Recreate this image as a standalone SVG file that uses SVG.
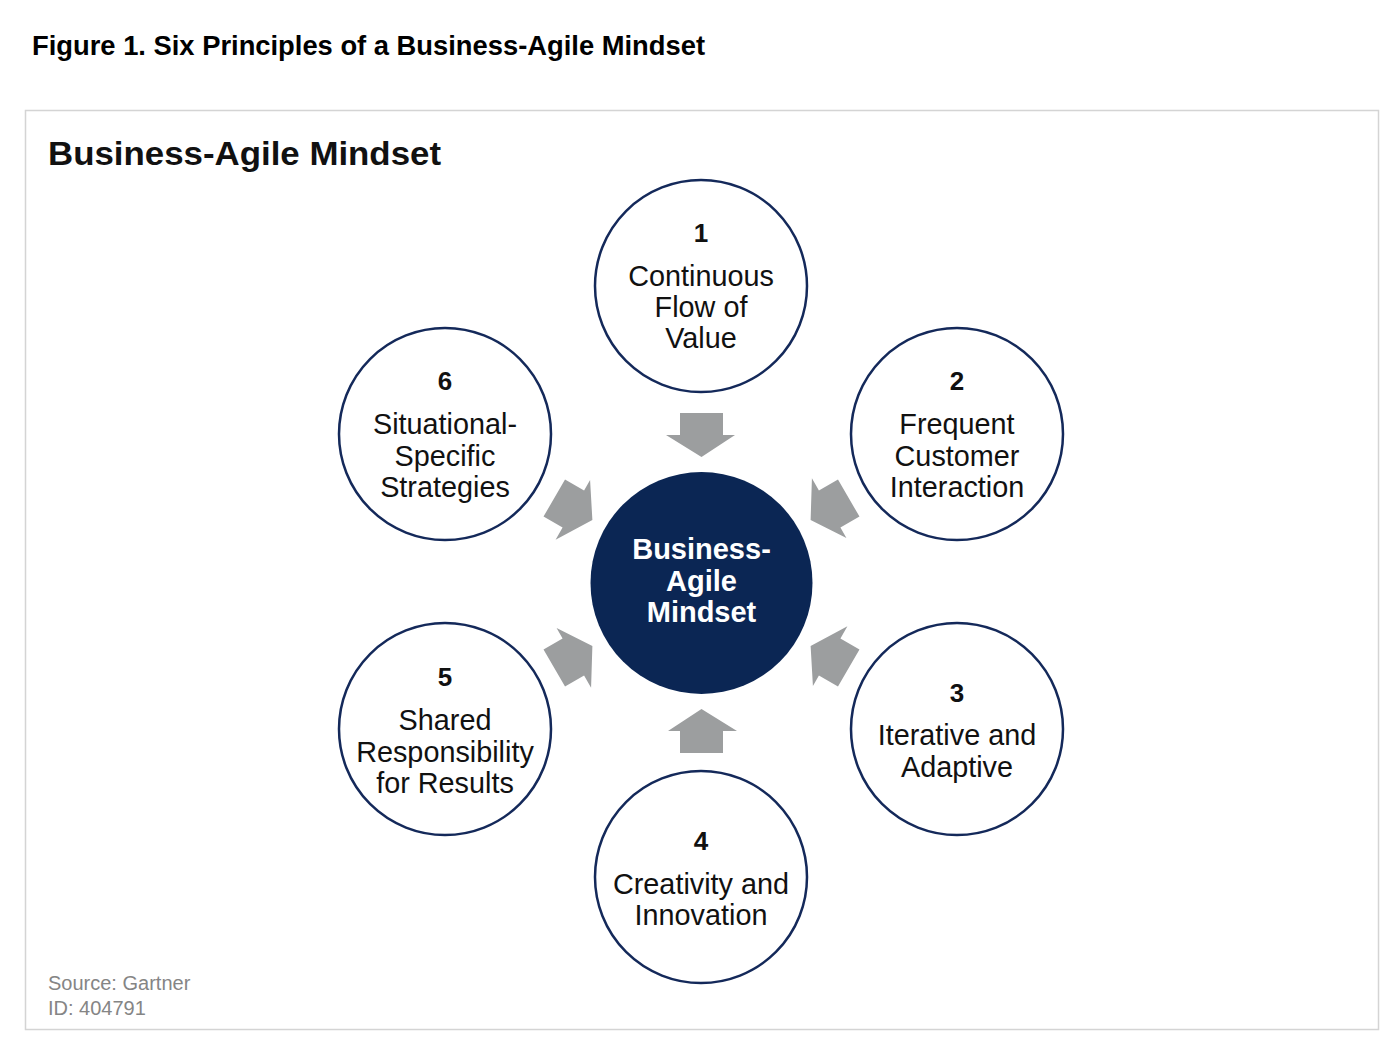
<svg xmlns="http://www.w3.org/2000/svg" width="1400" height="1055" viewBox="0 0 1400 1055">
<defs>
<style>
.ring{fill:#fff;stroke:#14295a;stroke-width:2.5}
.hub{fill:#0b2654}
.arr{fill:#9c9e9f}
.num{font-family:"Liberation Sans",Arial,sans-serif;font-weight:bold;font-size:26px;fill:#111;text-anchor:middle}
.lbl{font-family:"Liberation Sans",Arial,sans-serif;font-size:28.8px;fill:#111;text-anchor:middle}
.hubt{font-family:"Liberation Sans",Arial,sans-serif;font-weight:bold;font-size:29px;fill:#fff;text-anchor:middle}
</style>
<polygon id="arrow" points="680,413 723,413 723,435 735,435 701.5,457 666,435 680,435"/>
</defs>
<rect width="1400" height="1055" fill="#fff"/>
<text x="32" y="55" font-family="'Liberation Sans',Arial,sans-serif" font-weight="bold" font-size="27" fill="#000" textLength="673" lengthAdjust="spacingAndGlyphs">Figure 1. Six Principles of a Business-Agile Mindset</text>
<rect x="25.5" y="110.5" width="1353" height="919" fill="#fff" stroke="#d4d4d4" stroke-width="1.5"/>
<text x="48" y="165" font-family="'Liberation Sans',Arial,sans-serif" font-weight="bold" font-size="33" fill="#111" textLength="393" lengthAdjust="spacingAndGlyphs">Business-Agile Mindset</text>

<g id="connectors" class="arr">
<use href="#arrow" transform="rotate(0 701.5 583)"/>
<use href="#arrow" transform="rotate(60 701.5 583)"/>
<use href="#arrow" transform="rotate(120 701.5 583)"/>
<use href="#arrow" transform="rotate(180 701.5 583)"/>
<use href="#arrow" transform="rotate(240 701.5 583)"/>
<use href="#arrow" transform="rotate(300 701.5 583)"/>
</g>

<g id="node-center">
<circle class="hub" cx="701.5" cy="583" r="111"/>
<text class="hubt" x="701.5" y="559">Business-</text>
<text class="hubt" x="701.5" y="591">Agile</text>
<text class="hubt" x="701.5" y="622">Mindset</text>
</g>

<g id="node-1">
<circle class="ring" cx="701" cy="286" r="106"/>
<text class="num" x="701" y="242">1</text>
<text class="lbl" x="701" y="286">Continuous</text>
<text class="lbl" x="701" y="317">Flow of</text>
<text class="lbl" x="701" y="348">Value</text>
</g>

<g id="node-2">
<circle class="ring" cx="957" cy="434" r="106"/>
<text class="num" x="957" y="390">2</text>
<text class="lbl" x="957" y="434">Frequent</text>
<text class="lbl" x="957" y="466">Customer</text>
<text class="lbl" x="957" y="497">Interaction</text>
</g>

<g id="node-3">
<circle class="ring" cx="957" cy="729" r="106"/>
<text class="num" x="957" y="702">3</text>
<text class="lbl" x="957" y="745">Iterative and</text>
<text class="lbl" x="957" y="777">Adaptive</text>
</g>

<g id="node-4">
<circle class="ring" cx="701" cy="877" r="106"/>
<text class="num" x="701" y="850">4</text>
<text class="lbl" x="701" y="894">Creativity and</text>
<text class="lbl" x="701" y="925">Innovation</text>
</g>

<g id="node-5">
<circle class="ring" cx="445" cy="729" r="106"/>
<text class="num" x="445" y="686">5</text>
<text class="lbl" x="445" y="730">Shared</text>
<text class="lbl" x="445" y="762">Responsibility</text>
<text class="lbl" x="445" y="793">for Results</text>
</g>

<g id="node-6">
<circle class="ring" cx="445" cy="434" r="106"/>
<text class="num" x="445" y="390">6</text>
<text class="lbl" x="445" y="434">Situational-</text>
<text class="lbl" x="445" y="466">Specific</text>
<text class="lbl" x="445" y="497">Strategies</text>
</g>

<text x="48" y="990" font-family="'Liberation Sans',Arial,sans-serif" font-size="20" fill="#858585">Source: Gartner</text>
<text x="48" y="1015" font-family="'Liberation Sans',Arial,sans-serif" font-size="20" fill="#858585">ID: 404791</text>
</svg>
